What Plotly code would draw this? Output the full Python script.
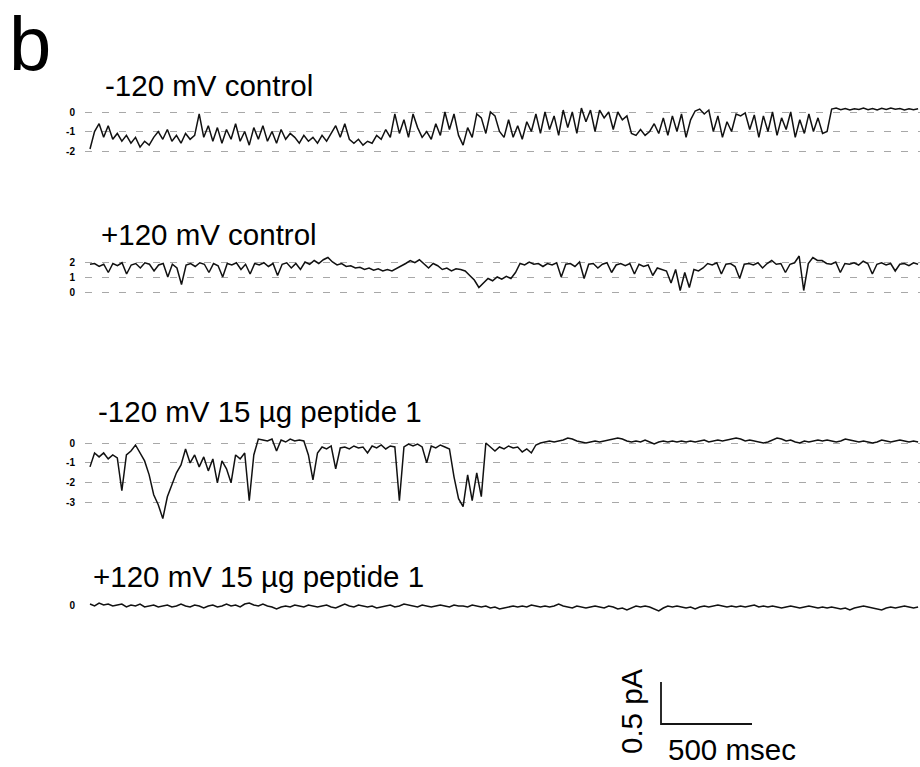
import numpy as np
import plotly.graph_objects as go

# ---------------- data ----------------
titles = ["-120 mV control", "+120 mV control",
          "-120 mV 15 µg peptide 1", "+120 mV 15 µg peptide 1"]
panel_label = "b"

levels_1 = [0, -1, -2]
levels_2 = [2, 1, 0]
levels_3 = [0, -1, -2, -3]
levels_4 = [0]

duration_ms = 4550

trace_1 = [
    -1.9, -1.0, -0.6, -1.3, -0.7, -1.4, -1.1, -1.5, -1.2, -1.6, -1.3, -1.8, -1.5, -1.7, -1.3, -1.0, -1.4, -0.9, -1.5, -1.2,
    -1.6, -1.1, -1.4, -1.2, -0.1, -1.3, -0.7, -1.5, -0.8, -1.6, -0.9, -1.4, -0.6, -1.5, -1.0, -1.7, -0.8, -1.4, -0.7, -1.5,
    -1.0, -1.6, -0.9, -1.4, -1.1, -1.3, -1.6, -1.2, -1.5, -1.3, -1.6, -1.2, -1.5, -1.1, -0.7, -1.3, -0.6, -1.4, -1.6, -1.4,
    -1.7, -1.5, -1.6, -1.2, -1.4, -0.9, -1.3, -0.1, -1.1, -0.4, -1.3, -0.1, -0.8, -1.3, -1.0, -1.4, -0.6, -1.2, 0.0, -0.9,
    -0.1, -1.2, -1.7, -0.8, -1.3, -0.1, -0.3, -1.1, 0.0, -0.2, -1.0, -1.3, -0.4, -1.3, -0.7, -1.4, -0.5, -1.0, -0.1, -1.1,
    0.0, -0.9, -0.2, -1.2, 0.1, -0.8, 0.0, -1.1, 0.2, -0.5, 0.1, -1.0, 0.1, -0.3, 0.0, -0.9, 0.0, -0.4, -0.2, -1.1,
    -1.2, -0.9, -1.2, -1.0, -0.6, -1.1, -0.3, -1.2, -0.2, -1.0, -0.1, -1.3, -0.4, 0.05, 0.15, -0.1, 0.1, -1.0, -0.2, -1.3,
    -0.5, -1.0, -0.1, -0.2, -0.05, -0.9, -0.15, -1.3, -0.2, -1.0, 0.0, -1.2, -0.3, -0.9, 0.0, -1.3, -0.4, -1.1, -0.1, -1.0,
    -0.3, -1.1, -1.0, 0.15, 0.2, 0.12, 0.18, 0.1, 0.17, 0.13, 0.2, 0.12, 0.18, 0.11, 0.19, 0.13, 0.2, 0.14, 0.18, 0.11,
    0.17, 0.12, 0.17,
]

trace_2 = [
    1.85, 1.9, 1.7, 1.85, 1.3, 1.9, 1.75, 1.95, 1.2, 1.8, 1.9, 1.6, 1.95, 1.85, 1.4, 1.8, 1.9, 1.0, 1.85, 1.6,
    0.5, 1.8, 1.9, 1.7, 1.95, 1.85, 1.3, 1.9, 1.75, 1.0, 1.9, 1.8, 1.95, 1.5, 1.85, 1.2, 1.9, 1.8, 1.95, 1.7,
    1.9, 1.1, 1.85, 1.95, 1.6, 1.9, 1.5, 2.0, 1.85, 2.1, 1.9, 2.15, 2.3, 2.0, 1.8, 1.9, 1.7, 1.75, 1.6, 1.65,
    1.5, 1.6, 1.45, 1.55, 1.4, 1.5, 1.4, 1.55, 1.7, 1.9, 2.1, 1.95, 2.15, 1.85, 1.6, 1.9, 1.75, 1.5, 1.6, 1.4,
    1.55, 1.5, 1.4, 1.1, 0.8, 0.3, 0.6, 0.9, 0.75, 1.0, 0.85, 1.05, 0.9, 1.3, 1.9, 1.8, 2.0, 1.85, 1.9, 1.7,
    1.9, 1.8, 1.95, 1.0, 1.85, 1.9, 1.7, 2.0, 0.9, 1.85, 1.9, 1.6, 1.85, 1.95, 1.3, 1.8, 1.9, 1.75, 1.9, 1.2,
    1.85, 1.7, 1.8, 1.1, 1.6, 1.5, 1.4, 0.6, 1.5, 0.1, 1.3, 0.3, 1.5, 1.4, 1.6, 1.9, 1.8, 1.95, 1.2, 1.85,
    1.9, 1.7, 0.9, 1.85, 1.9, 1.8, 1.95, 1.6, 1.9, 2.1, 1.85, 1.9, 1.3, 1.85, 1.95, 2.4, 0.1, 1.9, 2.3, 2.1,
    2.1, 1.9, 1.85, 2.0, 1.3, 1.9, 1.85, 1.95, 1.8, 2.05, 1.9, 1.2, 1.85, 1.95, 1.8, 1.9, 1.4, 1.85, 1.9, 1.75,
    1.95, 1.85,
]

trace_3 = [
    -1.2, -0.5, -0.7, -0.5, -0.8, -0.6, -0.75, -2.4, -0.6, -0.4, -0.1, -0.5, -0.9, -1.6, -2.6, -3.1, -3.8, -2.7, -2.1, -1.5,
    -1.1, -0.3, -1.0, -0.6, -1.2, -0.7, -1.4, -0.8, -2.0, -0.9, -1.3, -2.0, -0.6, -0.8, -0.5, -2.9, -0.6, 0.2, 0.15, 0.1,
    0.2, -0.4, 0.15, 0.05, 0.2, 0.1, 0.15, 0.1, -0.6, -1.85, -0.5, -0.2, -0.3, -0.15, -1.3, -0.25, -0.2, -0.3, -0.15, -0.25,
    -0.2, -0.5, -0.15, -0.25, -0.1, -0.3, -0.15, -0.2, -2.9, -0.2, -0.05, -0.15, -0.05, -0.2, -1.0, -0.15, -0.25, -0.1, -0.2, -0.3,
    -1.7, -2.8, -3.2, -1.6, -2.9, -1.5, -2.7, 0.0, -0.2, -0.4, -0.2, -0.3, -0.15, -0.25, -0.2, -0.45, -0.3, -0.5, -0.1, 0.0,
    0.05, 0.1, 0.05, 0.1, 0.15, 0.25, 0.2, 0.1, 0.05, 0.0, 0.05, 0.1, 0.05, 0.1, 0.15, 0.2, 0.25, 0.2, 0.1, 0.05,
    0.1, 0.05, 0.15, 0.05, -0.05, 0.05, 0.1, 0.05, 0.1, 0.05, 0.1, 0.05, 0.1, 0.05, 0.1, 0.15, 0.05, 0.1, 0.15, 0.1,
    0.15, 0.2, 0.25, 0.2, 0.1, 0.15, 0.1, 0.05, 0.0, 0.05, 0.15, 0.25, 0.2, 0.1, 0.15, 0.05, 0.0, 0.1, 0.05, 0.1,
    0.15, 0.1, 0.15, 0.1, 0.05, 0.1, 0.2, 0.15, 0.1, 0.05, 0.1, 0.05, 0.0, 0.05, 0.15, 0.1, 0.05, 0.1, 0.15, 0.1,
    0.05, 0.1, 0.05,
]

trace_4 = [
    0.05, -0.05, 0.1, 0.0, 0.05, -0.05, 0.0, 0.05, -0.1, 0.0, -0.05, 0.05, -0.1, -0.05, 0.0, -0.1, -0.05, 0.0, -0.1, -0.05,
    0.05, -0.05, -0.1, 0.0, -0.05, -0.15, -0.05, 0.0, -0.1, -0.05, 0.05, -0.05, 0.0, -0.1, 0.05, 0.1, 0.0, -0.05, 0.05, -0.05,
    -0.1, -0.2, -0.1, -0.05, -0.1, 0.0, -0.05, -0.1, 0.0, -0.05, -0.1, -0.05, 0.0, -0.1, -0.15, -0.05, 0.05, -0.05, -0.1, 0.0,
    -0.05, -0.1, -0.05, -0.15, -0.1, -0.05, 0.0, -0.1, -0.05, 0.05, 0.0, -0.05, -0.1, 0.0, -0.05, -0.1, -0.05, 0.0, -0.05, -0.1,
    0.0, -0.05, -0.05, -0.1, 0.0, -0.05, -0.1, -0.05, -0.15, -0.1, -0.2, -0.15, -0.1, -0.05, -0.1, -0.05, -0.1, 0.0, -0.05, -0.1,
    -0.05, -0.1, -0.05, 0.05, -0.05, -0.1, -0.15, -0.05, -0.1, -0.15, -0.1, -0.05, -0.1, -0.15, -0.05, -0.1, -0.2, -0.15, -0.25, -0.15,
    -0.05, -0.1, -0.05, -0.1, -0.2, -0.3, -0.15, -0.05, -0.1, -0.05, -0.1, -0.15, -0.1, -0.2, -0.1, -0.05, -0.1, -0.05, 0.0, -0.05,
    -0.1, -0.05, -0.1, -0.05, -0.1, -0.05, 0.0, -0.1, -0.05, -0.1, -0.05, -0.1, -0.15, -0.1, -0.05, -0.1, -0.15, -0.1, -0.05, -0.1,
    -0.15, -0.1, -0.15, -0.1, -0.15, -0.2, -0.15, -0.25, -0.15, -0.1, -0.05, -0.1, -0.15, -0.2, -0.25, -0.15, -0.1, -0.15, -0.1, -0.05,
    -0.1, -0.15, -0.1,
]

scale_ms = 500
scale_pa = 0.5
scale_labels = ["0.5 pA", "500 msec"]

# ---------------- layout helpers ----------------
W, H = 920, 767
PX_PER_MS = 91 / 500.0          # horizontal scale of the figure
X_LEFT_PX, X_START_PX = 85, 90  # left edge of dashed lines, start of traces
x0 = -(X_START_PX - X_LEFT_PX) / PX_PER_MS
x1 = x0 + (W - X_LEFT_PX) / PX_PER_MS


def ydom(top_px, bot_px):
    return [1 - bot_px / H, 1 - top_px / H]


def yrange(zero_px, unit_px, top_px, bot_px):
    return [-(bot_px - zero_px) / unit_px, (zero_px - top_px) / unit_px]


# (zero level pixel, pixels per level, domain top, domain bottom)
geo = [
    (112, 19.5, 92, 172),
    (292, 15.0, 245, 305),
    (443, 19.9, 425, 528),
    (605, 20.0, 588, 622),
]
series = [trace_1, trace_2, trace_3, trace_4]
levels = [levels_1, levels_2, levels_3, levels_4]
title_px = [(103, 86), (99, 234), (96, 411), (91, 576)]
TITLE_SIZE = 29.5

fig = go.Figure()
layout = dict(
    width=W, height=H, autosize=False,
    margin=dict(l=0, r=0, t=0, b=0),
    paper_bgcolor="white", plot_bgcolor="white",
    showlegend=False,
    font=dict(family="Liberation Sans, Arial, sans-serif", color="black"),
)

annotations = []
for k in range(4):
    n = k + 1
    xs = np.linspace(0, duration_ms, len(series[k]))
    fig.add_trace(go.Scatter(
        x=xs, y=series[k], mode="lines",
        line=dict(color="#111111", width=1.5),
        xaxis=f"x{n}" if n > 1 else "x", yaxis=f"y{n}" if n > 1 else "y",
        hoverinfo="skip",
    ))
    zero_px, unit_px, top_px, bot_px = geo[k]
    xa = dict(domain=[X_LEFT_PX / W, 1], range=[x0, x1], visible=False,
              anchor=f"y{n}" if n > 1 else "y")
    ya = dict(domain=ydom(top_px, bot_px),
              range=yrange(zero_px, unit_px, top_px, bot_px),
              anchor=f"x{n}" if n > 1 else "x",
              tickvals=levels[k],
              ticktext=[f"<b>{v}</b>" for v in levels[k]],
              tickfont=dict(size=10, color="black"),
              ticks="", ticklabelstandoff=9,
              showline=False, zeroline=False,
              showgrid=(k < 3), gridcolor="#a8a8a8", gridwidth=1,
              griddash="7px,10px")
    layout["xaxis" if n == 1 else f"xaxis{n}"] = xa
    layout["yaxis" if n == 1 else f"yaxis{n}"] = ya
    tx, ty = title_px[k]
    annotations.append(dict(
        text=titles[k], x=tx / W, y=1 - ty / H, xref="paper", yref="paper",
        xanchor="left", yanchor="middle", showarrow=False,
        font=dict(size=TITLE_SIZE, color="black")))

# scale bar panel (ms horizontally, pA vertically)
bar_x_px, bar_y_px = 661, 724
PX_PER_PA = 42 / 0.5
t_bar = (bar_x_px - X_START_PX) / PX_PER_MS
fig.add_trace(go.Scatter(
    x=[t_bar, t_bar, t_bar + scale_ms], y=[scale_pa, 0, 0], mode="lines",
    line=dict(color="#151515", width=1.8), xaxis="x5", yaxis="y5",
    hoverinfo="skip"))
layout["xaxis5"] = dict(domain=[X_LEFT_PX / W, 1], range=[x0, x1],
                        visible=False, anchor="y5")
layout["yaxis5"] = dict(domain=ydom(670, 740),
                        range=yrange(bar_y_px, PX_PER_PA, 670, 740),
                        visible=False, anchor="x5")

annotations.append(dict(
    text=scale_labels[0], x=631 / W, y=1 - 711 / H, xref="paper", yref="paper",
    xanchor="center", yanchor="middle", textangle=-90, showarrow=False,
    font=dict(size=TITLE_SIZE, color="black")))
annotations.append(dict(
    text=scale_labels[1], x=667 / W, y=0, xref="paper", yref="paper",
    xanchor="left", yanchor="bottom", showarrow=False, borderpad=0,
    font=dict(size=TITLE_SIZE, color="black")))
annotations.append(dict(
    text=panel_label, x=8 / W, y=1, xref="paper", yref="paper",
    xanchor="left", yanchor="top", showarrow=False, borderpad=0,
    font=dict(size=76, color="black")))

layout["annotations"] = annotations
fig.update_layout(**layout)

fig.write_html("out.html", config={"displayModeBar": False},
               post_script="document.body.style.margin='0';document.body.style.overflow='hidden';")
